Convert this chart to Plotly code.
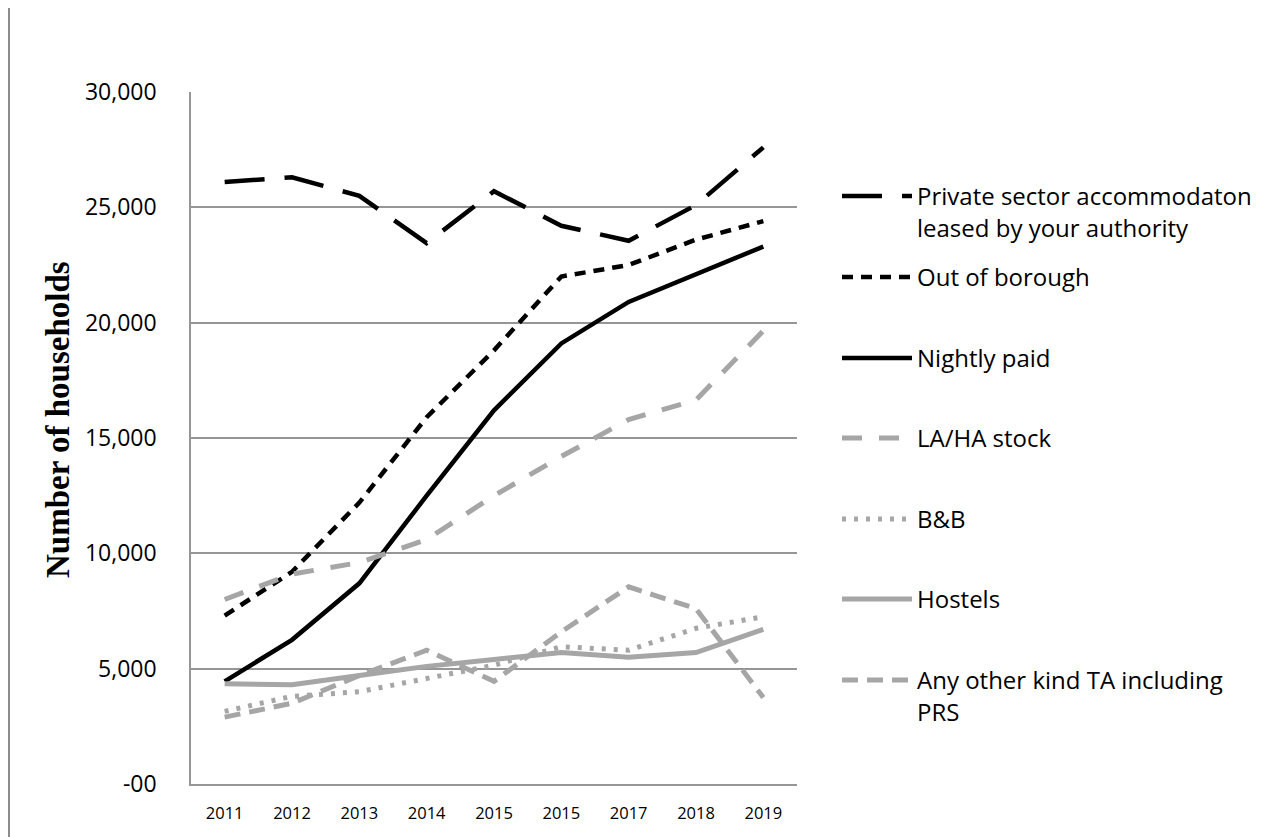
import plotly.graph_objects as go

# category labels as printed on the chart (note the repeated 2015)
YEARS = ["2011", "2012", "2013", "2014", "2015", "2015", "2017", "2018", "2019"]

PRIVATE_LEASED = [26100, 26300, 25500, 23450, 25700, 24200, 23550, 25100, 27600]
OUT_OF_BOROUGH = [7300, 9200, 12200, 15900, 18800, 22000, 22500, 23600, 24400]
NIGHTLY_PAID = [4450, 6250, 8700, 12500, 16200, 19100, 20900, 22100, 23300]
LA_HA_STOCK = [8000, 9100, 9600, 10600, 12500, 14200, 15800, 16650, 19650]
BNB = [3150, 3800, 4000, 4550, 5150, 5950, 5800, 6750, 7250]
HOSTELS = [4350, 4300, 4700, 5100, 5400, 5700, 5500, 5700, 6700]
OTHER_TA = [2900, 3500, 4700, 5800, 4450, 6600, 8550, 7600, 3750]

Y_TICKS = [0, 5000, 10000, 15000, 20000, 25000, 30000]
Y_TICK_TEXT = ["-00", "5,000", "10,000", "15,000", "20,000", "25,000", "30,000"]

BLACK = "#000000"
GREY = "#a6a6a6"
FONT = "Open Sans"

# the page body adds an 8px offset, so the figure is drawn 8px smaller
OFF = 8
W, H = 1264 - OFF, 837 - OFF
# plot area in screen pixels
L, R, T, B = 191, 797, 92, 784


def px_x(x):
    return (x - L) / (R - L)


def px_y(y):
    return (B - y) / (B - T)


series = [
    ("Private sector accommodaton<br>leased by your authority", PRIVATE_LEASED, BLACK, 4.5, "40px,20px", 195),
    ("Out of borough", OUT_OF_BOROUGH, BLACK, 4.5, "11px,8px", 276),
    ("Nightly paid", NIGHTLY_PAID, BLACK, 4.5, "solid", 357),
    ("LA/HA stock", LA_HA_STOCK, GREY, 5, "20px,17px", 437),
    ("B&B", BNB, GREY, 5, "4px,8px", 518),
    ("Hostels", HOSTELS, GREY, 5, "solid", 598),
    ("Any other kind TA including<br>PRS", OTHER_TA, GREY, 5, "16px,9px", 679),
]

x_idx = list(range(len(YEARS)))

fig = go.Figure()
legends = {}
for i, (name, vals, color, width, dash, ly) in enumerate(series):
    key = "legend" if i == 0 else f"legend{i + 1}"
    fig.add_trace(
        go.Scatter(
            x=x_idx,
            y=vals,
            mode="lines",
            name=name,
            line=dict(color=color, width=width, dash=dash),
            legend=key,
            hoverinfo="skip",
        )
    )
    legends[key] = dict(
        x=px_x(837),
        y=px_y(ly - 21),
        xanchor="left",
        yanchor="top",
        valign="top",
        bgcolor="rgba(0,0,0,0)",
        font=dict(family=FONT, size=24, color="#000000"),
        itemwidth=70,
    )

fig.update_xaxes(
    range=[-0.5, len(YEARS) - 0.5],
    tickvals=x_idx,
    ticktext=YEARS,
    showgrid=False,
    zeroline=False,
    showline=True,
    linecolor="#969696",
    linewidth=1.5,
    ticks="",
    ticklabelstandoff=13,
    tickfont=dict(family=FONT, size=16.5, color="#000000"),
    fixedrange=True,
)
fig.update_yaxes(
    range=[0, 30000],
    tickvals=Y_TICKS,
    ticktext=Y_TICK_TEXT,
    showgrid=True,
    gridcolor="#969696",
    gridwidth=1.5,
    zeroline=False,
    showline=True,
    linecolor="#969696",
    linewidth=1.5,
    ticks="",
    ticklabelstandoff=28,
    tickfont=dict(family=FONT, size=23, color="#000000"),
    fixedrange=True,
)

fig.add_annotation(
    text="<b>Number of households</b>",
    textangle=-90,
    xref="paper",
    yref="paper",
    x=px_x(58),
    y=px_y(420),
    xanchor="center",
    yanchor="middle",
    showarrow=False,
    font=dict(family="Liberation Serif", size=33, color="#000000"),
)

# outer chart border, only its left edge is inside the picture
fig.add_shape(
    type="line",
    xref="paper",
    yref="paper",
    x0=px_x(9),
    x1=px_x(9),
    y0=px_y(850),
    y1=px_y(0),
    line=dict(color="#8c8c8c", width=2),
)

fig.update_layout(
    width=W,
    height=H,
    margin=dict(l=L - OFF, r=1264 - R, t=T - OFF, b=837 - B, pad=0, autoexpand=False),
    plot_bgcolor="white",
    paper_bgcolor="white",
    showlegend=True,
    **legends,
)

fig.write_html("out.html")
